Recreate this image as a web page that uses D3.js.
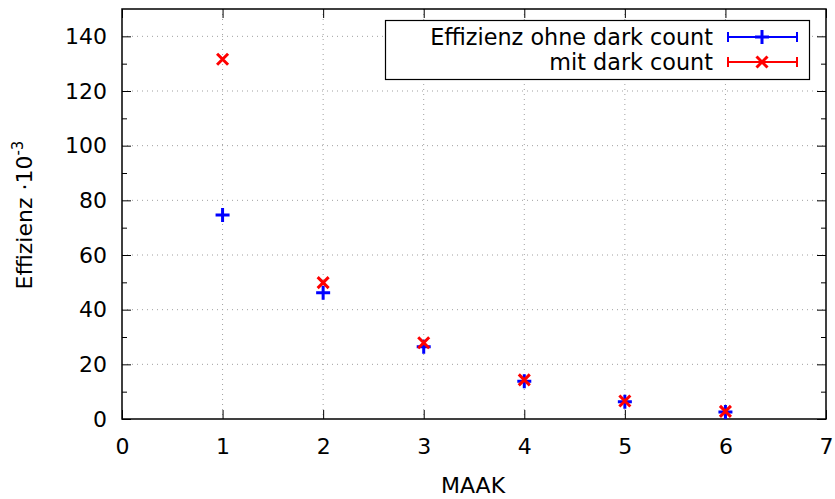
<!DOCTYPE html>
<html>
<head>
<meta charset="utf-8">
<script src="https://cdn.jsdelivr.net/npm/d3@7"></script>
<style>
  body { margin: 0; background: #fff; }
  svg { font-family: "DejaVu Sans", sans-serif; }
</style>
</head>
<body>
<svg id="chart" width="835" height="499"></svg>
<script>
// values (efficiency * 10^-3)
var maak = [1, 2, 3, 4, 5, 6];
var ohneDark = [74.6, 46.2, 26.4, 13.8, 6.3, 2.6];
var mitDark = [131.6, 49.9, 27.9, 14.3, 6.6, 2.8];
var xTicks = [0, 1, 2, 3, 4, 5, 6, 7];
var yTicks = [0, 20, 40, 60, 80, 100, 120, 140];
var yMinor = [10, 30, 50, 70, 90, 110, 130];

var fontSize = 22;
var svg = d3.select("#chart");
var margin = {top: 9, right: 9, bottom: 80, left: 122};
var width = 835 - margin.left - margin.right;
var height = 499 - margin.top - margin.bottom;

var x = d3.scaleLinear().domain([0, 7]).range([0, width]);
var y = d3.scaleLinear().domain([0, 150]).range([height, 0]);

var g = svg.append("g").attr("transform", "translate(" + margin.left + "," + margin.top + ")");

// dotted grid
g.selectAll(".gx").data(xTicks.slice(1, -1)).enter().append("line")
  .attr("x1", d => x(d)).attr("x2", d => x(d)).attr("y1", 0).attr("y2", height)
  .attr("stroke", "#a0a0a0").attr("stroke-width", 1).attr("stroke-dasharray", "1,4");
g.selectAll(".gy").data(yTicks.slice(1)).enter().append("line")
  .attr("x1", 0).attr("x2", width).attr("y1", d => y(d)).attr("y2", d => y(d))
  .attr("stroke", "#a0a0a0").attr("stroke-width", 1).attr("stroke-dasharray", "1,4");

// axes
var xAxis = g.append("g").attr("transform", "translate(0," + height + ")")
  .call(d3.axisBottom(x).tickValues(xTicks).tickSize(-9).tickPadding(19).tickFormat(d3.format("d")));
var xTop = g.append("g")
  .call(d3.axisTop(x).tickValues(xTicks).tickSize(-9).tickFormat(""));
var yAxis = g.append("g")
  .call(d3.axisLeft(y).tickValues(yTicks).tickSize(-9).tickPadding(15).tickFormat(d3.format("d")));
var yRight = g.append("g").attr("transform", "translate(" + width + ",0)")
  .call(d3.axisRight(y).tickValues(yTicks).tickSize(-9).tickFormat(""));
g.append("g").call(d3.axisLeft(y).tickValues(yMinor).tickSize(-5).tickFormat(""));
g.append("g").attr("transform", "translate(" + width + ",0)")
  .call(d3.axisRight(y).tickValues(yMinor).tickSize(-5).tickFormat(""));

[xAxis, xTop, yAxis, yRight].forEach(function (a) {
  a.selectAll("text").attr("font-size", fontSize).attr("fill", "#000")
    .attr("font-family", "DejaVu Sans, sans-serif");
});
g.selectAll(".domain").remove();
g.selectAll(".tick line").attr("stroke", "#000");
g.append("rect").attr("width", width).attr("height", height)
  .attr("fill", "none").attr("stroke", "#000").attr("stroke-width", 1.5);

// markers
function plus(sel, s) {
  sel.append("path").attr("d", "M" + (-s) + ",0H" + s + "M0," + (-s) + "V" + s);
}
function cross(sel, s) {
  sel.append("path").attr("d", "M" + (-s) + "," + (-s) + "L" + s + "," + s + "M" + (-s) + "," + s + "L" + s + "," + (-s));
}

g.selectAll(".blue").data(maak).enter().append("g")
  .attr("transform", (d, i) => "translate(" + x(d) + "," + y(ohneDark[i]) + ")")
  .attr("stroke", "#0000ff").attr("stroke-width", 3).attr("fill", "none")
  .each(function () { plus(d3.select(this), 7); });

g.selectAll(".red").data(maak).enter().append("g")
  .attr("transform", (d, i) => "translate(" + x(d) + "," + y(mitDark[i]) + ")")
  .attr("stroke", "#ff0000").attr("stroke-width", 3).attr("fill", "none")
  .each(function () { cross(d3.select(this), 5.5); });

// legend
var leg = svg.append("g");
leg.append("rect").attr("x", 385.5).attr("y", 20.5).attr("width", 424).attr("height", 59)
  .attr("fill", "#fff").attr("stroke", "#000").attr("stroke-width", 1.2);
var entries = [
  {label: "Effizienz ohne dark count", color: "#0000ff", mark: plus, s: 7},
  {label: "mit dark count", color: "#ff0000", mark: cross, s: 5.5}
];
entries.forEach(function (e, i) {
  var cy = 37 + i * 25;
  leg.append("text").attr("x", 713).attr("y", cy + 8)
    .attr("text-anchor", "end").attr("font-size", 22.3).text(e.label);
  var s = leg.append("g").attr("stroke", e.color).attr("stroke-width", 2).attr("fill", "none");
  s.append("path").attr("d", "M728," + cy + "H797M728," + (cy - 5) + "V" + (cy + 5) + "M797," + (cy - 5) + "V" + (cy + 5));
  var m = leg.append("g").attr("transform", "translate(762," + cy + ")")
    .attr("stroke", e.color).attr("stroke-width", 3).attr("fill", "none");
  e.mark(m, e.s);
});

// axis labels
svg.append("text").attr("x", 473).attr("y", 493).attr("text-anchor", "middle")
  .attr("font-size", fontSize).text("MAAK");
var yl = svg.append("text").attr("transform", "translate(32,215) rotate(-90)")
  .attr("text-anchor", "middle").attr("font-size", fontSize);
yl.append("tspan").text("Effizienz ·10");
yl.append("tspan").attr("dy", -9).attr("font-size", 15).text("-3");
</script>
</body>
</html>
